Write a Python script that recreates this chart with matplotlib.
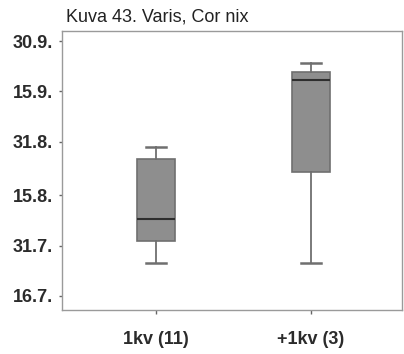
import datetime as dt
import matplotlib
matplotlib.use("Agg")
import matplotlib.pyplot as plt

plt.rcParams['font.family'] = ['Liberation Sans', 'DejaVu Sans']

# Groups and box statistics (day of year, 2009 calendar)
groups = ["1kv (11)", "+1kv (3)"]
whisker_low = [206.8, 206.8]
q1 = [213.4, 234.0]
median = [219.9, 261.4]
q3 = [237.9, 263.8]
whisker_high = [241.5, 266.4]

# Date ticks on the y axis (day, month)
tick_dates = [(16, 7), (31, 7), (15, 8), (31, 8), (15, 9), (30, 9)]
tick_labels = ["16.7.", "31.7.", "15.8.", "31.8.", "15.9.", "30.9."]


def doy(day, month, year=2009):
    return dt.date(year, month, day).timetuple().tm_yday


stats = []
for name, lo, a, m, b, hi in zip(groups, whisker_low, q1, median, q3, whisker_high):
    stats.append(dict(label=name, whislo=lo, q1=a, med=m, q3=b, whishi=hi, fliers=[]))

fig = plt.figure(figsize=(4.04, 3.54), dpi=100)
ax = fig.add_axes([0.1535, 0.1243, 0.8415, 0.7881])

edge = "#6f6f6f"
ax.bxp(stats, positions=[1, 2], widths=0.25, patch_artist=True, showfliers=False,
       boxprops=dict(facecolor="#8e8e8e", edgecolor=edge, linewidth=1.2),
       medianprops=dict(color="#2e2e2e", linewidth=1.5),
       whiskerprops=dict(color=edge, linewidth=1.3),
       capprops=dict(color=edge, linewidth=1.8),
       capwidths=0.125)

ax.set_xlim(0.394, 2.587)
ax.set_ylim(192.8, 276.0)
ax.set_yticks([doy(d, m) for d, m in tick_dates])
ax.set_yticklabels(tick_labels)
ax.set_xticks([1, 2])
ax.set_xticklabels(groups)

for spine in ax.spines.values():
    spine.set_color("#9a9a9a")
    spine.set_linewidth(1.0)

ax.tick_params(axis="y", length=2.5, width=1.0, color="#666666", pad=4,
               labelsize=13, labelcolor="#2b2b2b")
ax.tick_params(axis="x", length=3, width=1.0, color="#666666", pad=12,
               labelsize=13, labelcolor="#2b2b2b")
for lbl in ax.get_yticklabels() + ax.get_xticklabels():
    lbl.set_fontweight("bold")

fig.text(0.163, 1 - 21.5 / 354, "Kuva 43. Varis, Cor nix", fontsize=13, color="#222222",
         ha="left", va="baseline")

fig.savefig("out.png", dpi=100)
